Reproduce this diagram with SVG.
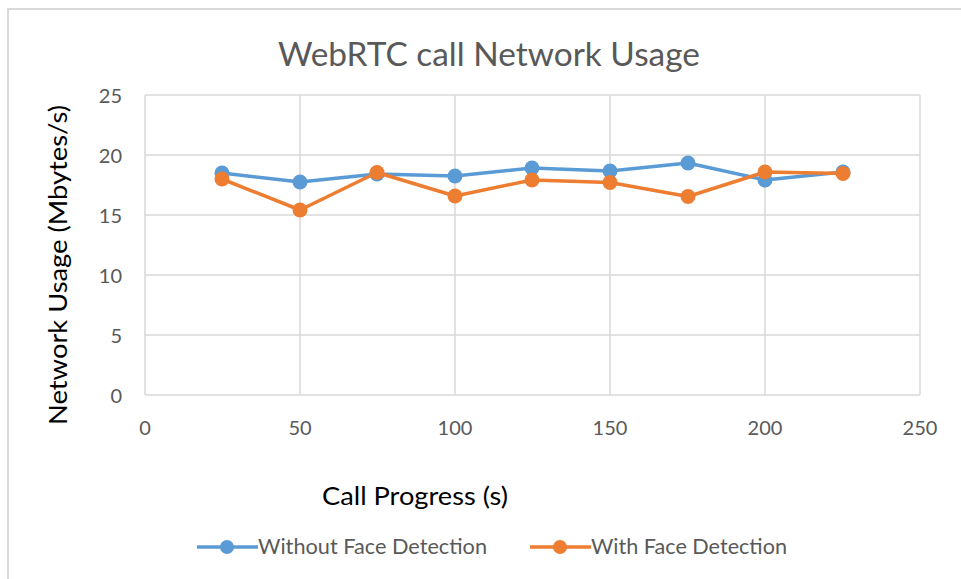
<svg xmlns="http://www.w3.org/2000/svg" width="961" height="579" viewBox="0 0 961 579">
  <style>
    .frame { stroke: #d9d9d9; stroke-width: 2; fill: none; }
    .grid { stroke: #d9d9d9; stroke-width: 1.5; fill: none; }
    .tick { font-family: Lato, "Open Sans", "Liberation Sans", sans-serif; font-size: 20px; fill: #595959; }
    .title { font-family: Lato, "Open Sans", "Liberation Sans", sans-serif; font-size: 33px; fill: #595959; }
    .axis-title { font-family: Lato, "Open Sans", "Liberation Sans", sans-serif; font-size: 25px; fill: #000000; }
    .legend { font-family: Lato, "Open Sans", "Liberation Sans", sans-serif; font-size: 21px; fill: #595959; }
    .blue { stroke: #5b9bd5; fill: none; stroke-width: 3.5; stroke-linejoin: round; }
    .orange { stroke: #ed7d31; fill: none; stroke-width: 3.5; stroke-linejoin: round; }
    .dot-blue { fill: #5b9bd5; }
    .dot-orange { fill: #ed7d31; }
  </style>
  <rect x="0" y="0" width="961" height="579" fill="#ffffff"/>

  <!-- chart frame (top and left edges) -->
  <path class="frame" d="M8 579 V9 H961"/>

  <!-- title -->
  <text class="title" x="489" y="66" text-anchor="middle" textLength="422" lengthAdjust="spacingAndGlyphs">WebRTC call Network Usage</text>

  <!-- plot area grid -->
  <g id="grid">
    <line class="grid" x1="145" y1="95" x2="920" y2="95"/>
    <line class="grid" x1="145" y1="155" x2="920" y2="155"/>
    <line class="grid" x1="145" y1="215" x2="920" y2="215"/>
    <line class="grid" x1="145" y1="275" x2="920" y2="275"/>
    <line class="grid" x1="145" y1="335" x2="920" y2="335"/>
    <line class="grid" x1="145" y1="395" x2="920" y2="395"/>
    <line class="grid" x1="145" y1="95" x2="145" y2="395"/>
    <line class="grid" x1="300" y1="95" x2="300" y2="395"/>
    <line class="grid" x1="455" y1="95" x2="455" y2="395"/>
    <line class="grid" x1="610" y1="95" x2="610" y2="395"/>
    <line class="grid" x1="765" y1="95" x2="765" y2="395"/>
    <line class="grid" x1="920" y1="95" x2="920" y2="395"/>
  </g>

  <!-- y tick labels -->
  <g id="y-ticks" text-anchor="end">
    <text class="tick" x="122" y="103">25</text>
    <text class="tick" x="122" y="163">20</text>
    <text class="tick" x="122" y="223">15</text>
    <text class="tick" x="122" y="283">10</text>
    <text class="tick" x="122" y="343">5</text>
    <text class="tick" x="122" y="403">0</text>
  </g>

  <!-- x tick labels -->
  <g id="x-ticks" text-anchor="middle">
    <text class="tick" x="145" y="435">0</text>
    <text class="tick" x="300" y="435">50</text>
    <text class="tick" x="455" y="435">100</text>
    <text class="tick" x="610" y="435">150</text>
    <text class="tick" x="765" y="435">200</text>
    <text class="tick" x="920" y="435">250</text>
  </g>

  <!-- axis titles -->
  <text class="axis-title" x="415" y="505" text-anchor="middle" textLength="186" lengthAdjust="spacingAndGlyphs">Call Progress (s)</text>
  <text class="axis-title" transform="translate(67 265) rotate(-90)" text-anchor="middle" textLength="320" lengthAdjust="spacingAndGlyphs">Network Usage (Mbytes/s)</text>

  <!-- data series -->
  <g id="series-without">
    <polyline class="blue" points="222,173 300,182 377,174 455,176 532,168 610,171 688,163 765,180 843,172"/>
    <g class="dot-blue">
      <circle cx="222" cy="173" r="7.5"/>
      <circle cx="300" cy="182" r="7.5"/>
      <circle cx="377" cy="174" r="7.5"/>
      <circle cx="455" cy="176" r="7.5"/>
      <circle cx="532" cy="168" r="7.5"/>
      <circle cx="610" cy="171" r="7.5"/>
      <circle cx="688" cy="163" r="7.5"/>
      <circle cx="765" cy="180" r="7.5"/>
      <circle cx="843" cy="172" r="7.5"/>
    </g>
  </g>
  <g id="series-with">
    <polyline class="orange" points="222,179 300,210 377,172.5 455,196 532,180 610,182.5 688,196.5 765,172 843,173.5"/>
    <g class="dot-orange">
      <circle cx="222" cy="179" r="7.5"/>
      <circle cx="300" cy="210" r="7.5"/>
      <circle cx="377" cy="172.5" r="7.5"/>
      <circle cx="455" cy="196" r="7.5"/>
      <circle cx="532" cy="180" r="7.5"/>
      <circle cx="610" cy="182.5" r="7.5"/>
      <circle cx="688" cy="196.5" r="7.5"/>
      <circle cx="765" cy="172" r="7.5"/>
      <circle cx="843" cy="173.5" r="7.5"/>
    </g>
  </g>

  <!-- legend -->
  <g id="legend-without">
    <line class="blue" x1="197" y1="547" x2="258" y2="547"/>
    <circle class="dot-blue" cx="227" cy="547" r="7"/>
    <text class="legend" x="258" y="554" textLength="229" lengthAdjust="spacingAndGlyphs">Without Face Detection</text>
  </g>
  <g id="legend-with">
    <line class="orange" x1="530" y1="547" x2="591" y2="547"/>
    <circle class="dot-orange" cx="560" cy="547" r="7"/>
    <text class="legend" x="591" y="554" textLength="196" lengthAdjust="spacingAndGlyphs">With Face Detection</text>
  </g>
</svg>
